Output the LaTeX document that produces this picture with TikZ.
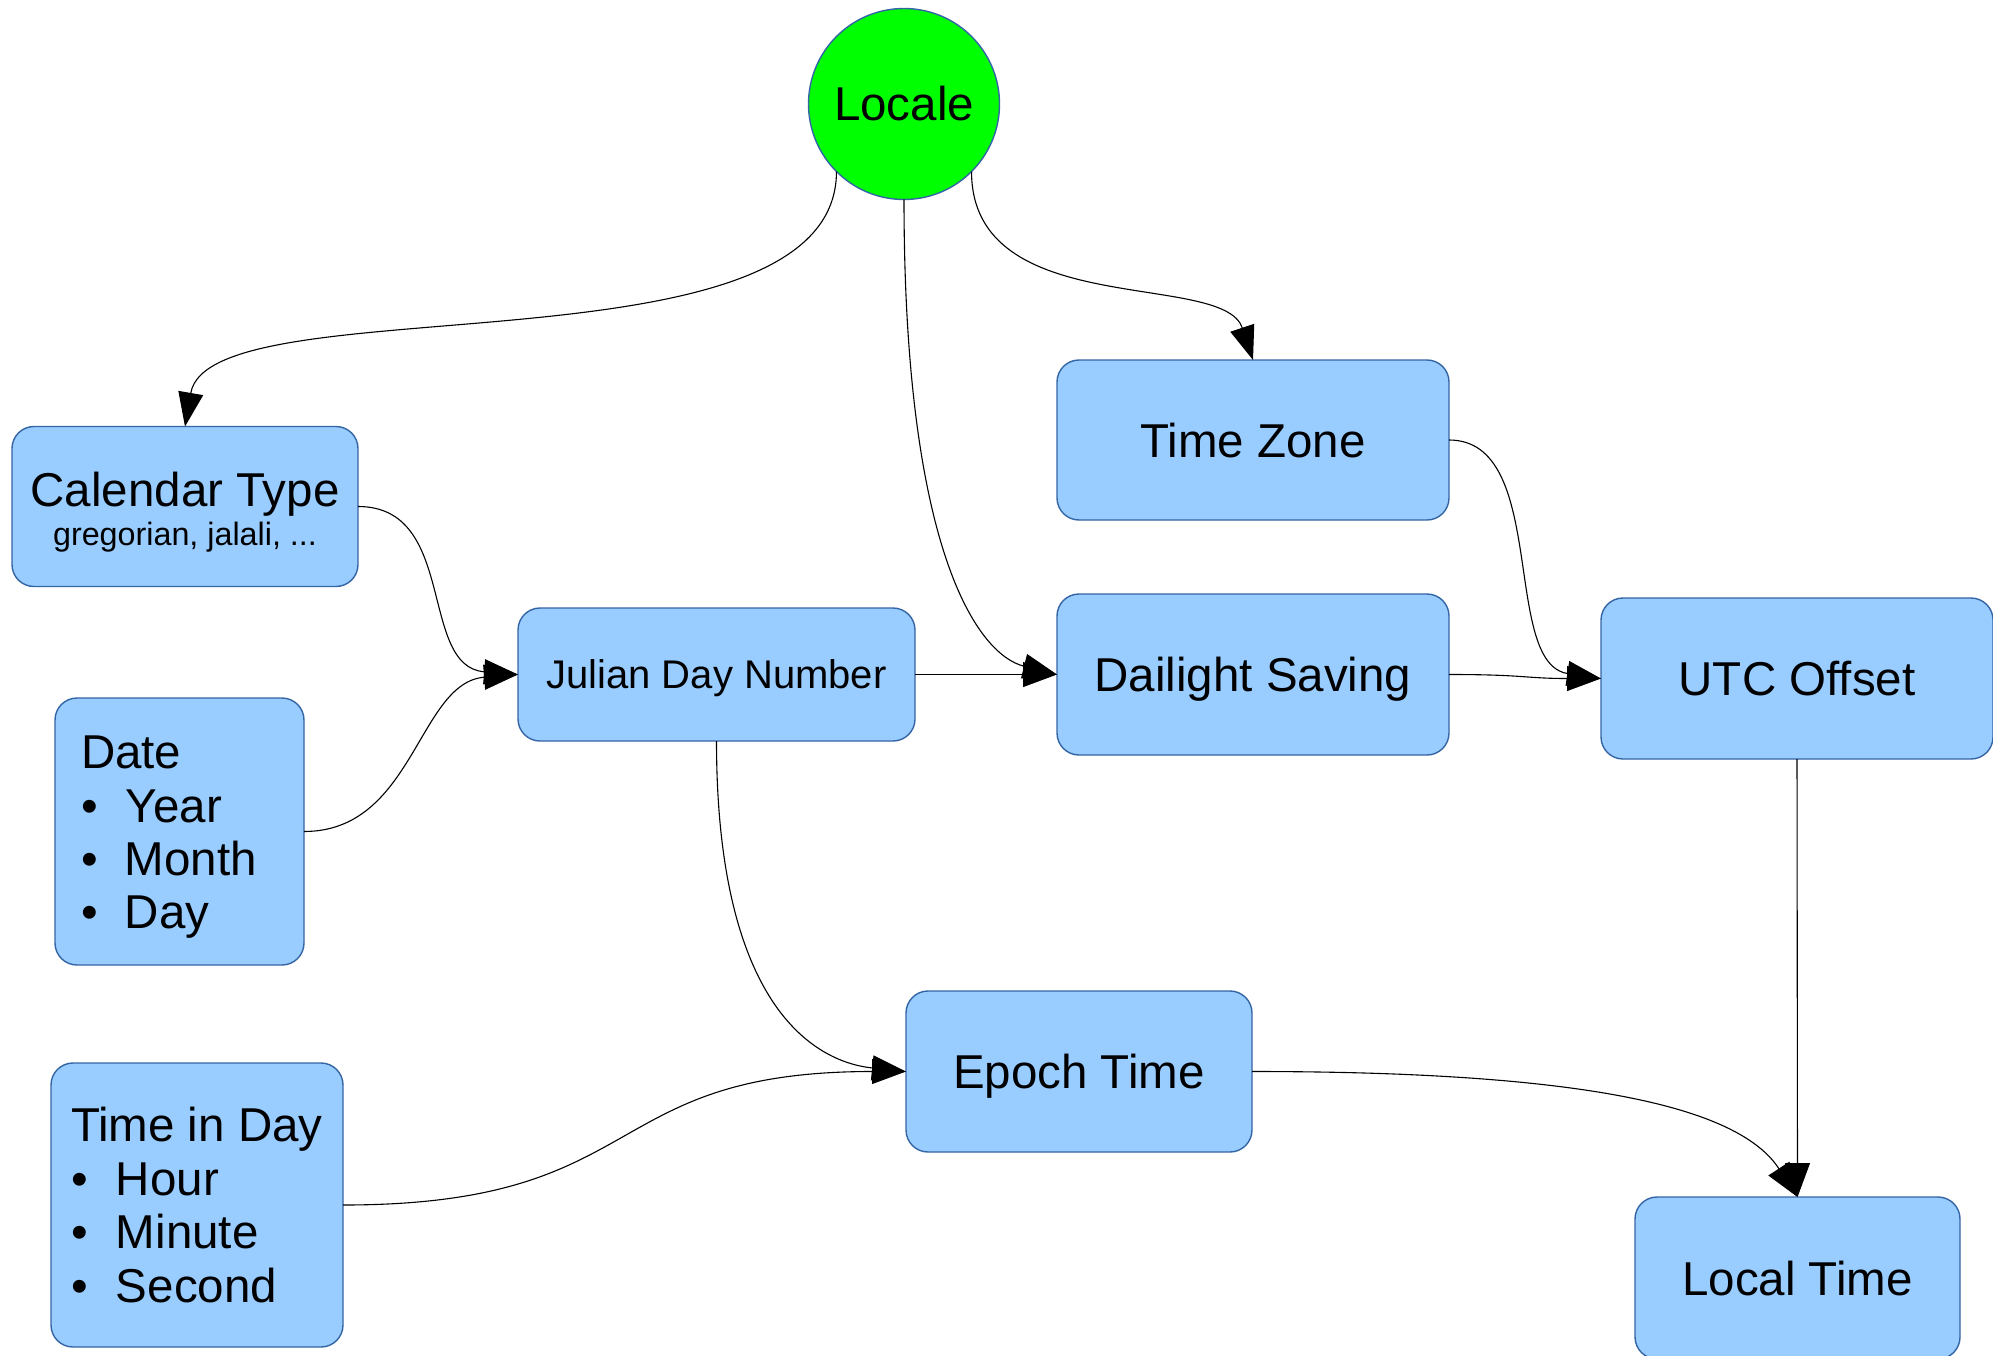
\documentclass[tikz,border=0pt]{standalone}
\usepackage{fontspec}
\setmainfont{Liberation Sans}
\usetikzlibrary{arrows.meta}
\definecolor{boxfill}{HTML}{99CCFF}
\definecolor{boxline}{HTML}{3465A4}
\definecolor{locfill}{HTML}{00FF00}
\newcommand{\bulitem}[1]{\makebox[#1][l]{•}}
\begin{document}
\begin{tikzpicture}[x=1pt,y=-1pt,
  mainfont/.style={font=\fontsize{47.5}{53.5}\selectfont},
  box/.style={draw=boxline, line width=1.4pt, fill=boxfill, rounded corners=22pt,
    inner sep=0pt, outer sep=0pt, mainfont, text height=34pt, text depth=0pt},
  lbl/.style={inner sep=0pt, outer sep=0pt, mainfont},
  conn/.style={draw=black, line width=1.1pt, -{Triangle[length=34pt,width=25pt]}}
]
\useasboundingbox (0,0) rectangle (1993,1356);

% nodes
\node[circle, draw=boxline, line width=1.4pt, fill=locfill, minimum size=191pt,
  inner sep=0pt, outer sep=0pt, mainfont, text height=34pt, text depth=0pt]
  (loc) at (904,104) {Locale};

\node[box, minimum width=346pt, minimum height=160pt] (cal) at (185,506.5) {};
\node[lbl, anchor=base] (calt) at (185,506) {Calendar Type};
\node[lbl, anchor=base, font=\fontsize{32.3}{37}\selectfont] (cals) at (185,545) {gregorian, jalali, ...};

\node[box, minimum width=249pt, minimum height=267pt] (date) at (179.5,831.5) {};
\node[lbl, anchor=base west] (d0) at (81,768) {Date};
\node[lbl, anchor=base west] (d1) at (81,822) {\bulitem{45pt}Year};
\node[lbl, anchor=base west] (d2) at (81,875) {\bulitem{44pt}Month};
\node[lbl, anchor=base west] (d3) at (81,928) {\bulitem{44pt}Day};

\node[box, minimum width=292pt, minimum height=284pt] (tid) at (197,1205) {};
\node[lbl, anchor=base west] (t0) at (71,1141) {Time in Day};
\node[lbl, anchor=base west] (t1) at (71,1195) {\bulitem{45pt}Hour};
\node[lbl, anchor=base west] (t2) at (71,1248) {\bulitem{45pt}Minute};
\node[lbl, anchor=base west] (t3) at (71,1302) {\bulitem{45pt}Second};

\node[box, minimum width=397pt, minimum height=133pt,
  font=\fontsize{40}{46}\selectfont, text height=28.6pt] (jdn) at (716.5,674.5) {Julian Day Number};

\node[box, minimum width=392pt, minimum height=160pt] (tz) at (1253,440) {Time Zone};
\node[box, minimum width=392pt, minimum height=161pt] (ds) at (1253,674.5) {Dailight Saving};
\node[box, minimum width=392pt, minimum height=161pt] (utc) at (1797,678.5) {UTC Offset};
\node[box, minimum width=346pt, minimum height=161pt] (epoch) at (1079,1071.5) {Epoch Time};
\node[box, minimum width=325pt, minimum height=162pt] (lt) at (1797.5,1278) {Local Time};

% connectors
\draw[conn] (loc.-135) .. controls +(0,210) and +(25,-145) .. (cal.north);
\draw[conn] (loc.-45) .. controls +(0,150) and +(-30,-90) .. (tz.north);
\draw[conn] (loc.-90) .. controls +(0,350) and +(-80,-20) .. (ds.west);
\draw[conn] (cal.east) .. controls +(100,0) and +(-100,-8) .. (jdn.west);
\draw[conn] (date.east) .. controls +(110,0) and +(-100,8) .. (jdn.west);
\draw[conn] (jdn.east) -- (ds.west);
\draw[conn] (tz.east) .. controls +(100,0) and +(-100,-15) .. (utc.west);
\draw[conn] (ds.east) .. controls +(76,0) and +(-76,0) .. (utc.west);
\draw[conn] (utc.south) -- (lt.north);
\draw[conn] (jdn.south) .. controls +(0,260) and +(-95,-10) .. (epoch.west);
\draw[conn] (tid.east) .. controls +(310,0) and +(-310,0) .. (epoch.west);
\draw[conn] (epoch.east) .. controls +(348,0) and +(-57,-87) .. (lt.north);
\end{tikzpicture}
\end{document}
